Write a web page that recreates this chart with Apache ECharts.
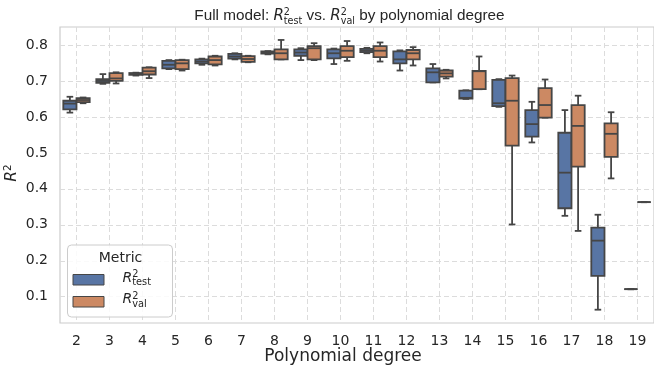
<!DOCTYPE html>
<html>
<head>
<meta charset="utf-8">
<script src="https://cdn.jsdelivr.net/npm/echarts@6/dist/echarts.min.js"></script>
<style>
  html, body { margin: 0; padding: 0; background: #ffffff; }
  #chart { width: 654px; height: 369px; }
</style>
</head>
<body>
<div id="chart"></div>
<script>
// Polynomial degrees on the x axis
const degrees = [2, 3, 4, 5, 6, 7, 8, 9, 10, 11, 12, 13, 14, 15, 16, 17, 18, 19];

// Five-number summaries per degree: [lower whisker, Q1, median, Q3, upper whisker]
const testStats = [
  [0.612, 0.621, 0.637, 0.645, 0.656],
  [0.692, 0.695, 0.700, 0.705, 0.719],
  [0.715, 0.717, 0.720, 0.722, 0.723],
  [0.733, 0.735, 0.745, 0.756, 0.758],
  [0.745, 0.749, 0.754, 0.760, 0.762],
  [0.760, 0.762, 0.768, 0.775, 0.777],
  [0.774, 0.776, 0.779, 0.782, 0.783],
  [0.758, 0.770, 0.779, 0.788, 0.791],
  [0.747, 0.763, 0.777, 0.788, 0.790],
  [0.777, 0.780, 0.784, 0.789, 0.792],
  [0.729, 0.749, 0.760, 0.782, 0.785],
  [0.696, 0.696, 0.724, 0.735, 0.747],
  [0.650, 0.651, 0.653, 0.673, 0.674],
  [0.628, 0.630, 0.638, 0.703, 0.705],
  [0.529, 0.545, 0.580, 0.619, 0.642],
  [0.325, 0.346, 0.445, 0.556, 0.619],
  [0.064, 0.158, 0.256, 0.292, 0.328],
  [0.121, 0.121, 0.121, 0.121, 0.121]
];

const valStats = [
  [0.638, 0.641, 0.647, 0.652, 0.654],
  [0.693, 0.700, 0.707, 0.722, 0.724],
  [0.708, 0.718, 0.727, 0.737, 0.738],
  [0.729, 0.733, 0.749, 0.758, 0.759],
  [0.743, 0.746, 0.758, 0.768, 0.770],
  [0.752, 0.753, 0.761, 0.769, 0.770],
  [0.760, 0.760, 0.777, 0.788, 0.814],
  [0.758, 0.760, 0.791, 0.797, 0.805],
  [0.756, 0.766, 0.784, 0.797, 0.811],
  [0.754, 0.766, 0.784, 0.797, 0.807],
  [0.743, 0.760, 0.777, 0.786, 0.794],
  [0.707, 0.712, 0.721, 0.729, 0.731],
  [0.677, 0.677, 0.727, 0.728, 0.768],
  [0.301, 0.520, 0.645, 0.708, 0.715],
  [0.598, 0.598, 0.633, 0.680, 0.704],
  [0.283, 0.462, 0.575, 0.633, 0.659],
  [0.429, 0.489, 0.553, 0.582, 0.613],
  [0.363, 0.363, 0.363, 0.363, 0.363]
];

const yTicks = [0.1, 0.2, 0.3, 0.4, 0.5, 0.6, 0.7, 0.8];

const COLOR_TEST = '#5875a4';
const COLOR_VAL = '#cc8963';
const EDGE = '#464646';
const GRID_COLOR = '#dcdcdc';
const TEXT = '#262626';
const MATH_FONT = '"DejaVu Sans"';
const TITLE_FONT = '"Liberation Sans"';

// text measuring for laying out super/subscripts
const mctx = document.createElement('canvas').getContext('2d');
function measure(t, size, fam, style) {
  mctx.font = (style || 'normal') + ' ' + size + 'px ' + fam;
  return mctx.measureText(t).width;
}

// Lays out a run of text pieces on a common baseline; stacked pieces put
// a superscript over a subscript at the same x position.
function mathRun(x0, baseY, pieces, z) {
  const els = [];
  let x = x0;
  function put(t, size, fam, style, by) {
    els.push({
      type: 'text', z: z || 50,
      style: {
        text: t, x: x, y: by - size * 0.36,
        font: (style || 'normal') + ' ' + size + 'px ' + fam,
        fill: TEXT, align: 'left', verticalAlign: 'middle'
      }
    });
  }
  pieces.forEach(function (p) {
    if (p.stack) {
      put(p.sup, p.size, p.fam, 'normal', baseY + p.supDy);
      put(p.sub, p.size, p.fam, 'normal', baseY + p.subDy);
      x += Math.max(measure(p.sup, p.size, p.fam), measure(p.sub, p.size, p.fam));
    } else {
      put(p.t, p.size, p.fam, p.style, baseY);
      x += measure(p.t, p.size, p.fam, p.style);
    }
  });
  return { els: els, width: x - x0 };
}

function runWidth(pieces) {
  return mathRun(0, 0, pieces).width;
}

const titlePieces = [
  { t: 'Full model: ', size: 15.3, fam: TITLE_FONT },
  { t: 'R', size: 15, fam: MATH_FONT, style: 'italic' },
  { stack: true, sup: '2', sub: 'test', size: 9.6, fam: MATH_FONT, supDy: -5.5, subDy: 3 },
  { t: ' vs. ', size: 15.3, fam: TITLE_FONT },
  { t: 'R', size: 15, fam: MATH_FONT, style: 'italic' },
  { stack: true, sup: '2', sub: 'val', size: 9.6, fam: MATH_FONT, supDy: -5.5, subDy: 3 },
  { t: ' by polynomial degree', size: 15.3, fam: TITLE_FONT }
];
const titleW = runWidth(titlePieces);
const titleRun = mathRun(349.5 - titleW / 2, 21.6, titlePieces, 60);

function legendLabel(sub) {
  return [
    { t: 'R', size: 14, fam: MATH_FONT, style: 'italic' },
    { stack: true, sup: '2', sub: sub, size: 9.8, fam: MATH_FONT, supDy: -5, subDy: 3 }
  ];
}
const legTest = mathRun(122.5, 283, legendLabel('test'), 110);
const legVal = mathRun(122.5, 304.5, legendLabel('val'), 110);

// y axis name, drawn upright then turned a quarter turn
const yNamePieces = [
  { t: 'R', size: 15.5, fam: MATH_FONT, style: 'italic' },
  { stack: true, sup: '2', sub: '', size: 10.5, fam: MATH_FONT, supDy: -5.5, subDy: 3 }
];
const yNameW = runWidth(yNamePieces);
const yNameRun = mathRun(-yNameW / 2, 5, yNamePieces, 60);

function buildData(stats) {
  return degrees.map(function (d, i) {
    const s = stats[i];
    return [d, s[0], s[1], s[2], s[3], s[4]];
  });
}

function renderBox(offset, color) {
  return function (params, api) {
    const d = api.value(0);
    const cx = api.coord([d + offset, 0])[0];
    const bw = api.size([0.4, 0])[0];
    const capW = bw * 0.5;
    const yLo = api.coord([d, api.value(1)])[1];
    const yQ1 = api.coord([d, api.value(2)])[1];
    const yMed = api.coord([d, api.value(3)])[1];
    const yQ3 = api.coord([d, api.value(4)])[1];
    const yHi = api.coord([d, api.value(5)])[1];
    const lineStyle = { stroke: EDGE, lineWidth: 1.8, lineCap: 'butt' };
    return {
      type: 'group',
      children: [
        { type: 'line', shape: { x1: cx, y1: yHi, x2: cx, y2: yQ3 }, style: lineStyle },
        { type: 'line', shape: { x1: cx, y1: yQ1, x2: cx, y2: yLo }, style: lineStyle },
        { type: 'line', shape: { x1: cx - capW / 2, y1: yHi, x2: cx + capW / 2, y2: yHi }, style: lineStyle },
        { type: 'line', shape: { x1: cx - capW / 2, y1: yLo, x2: cx + capW / 2, y2: yLo }, style: lineStyle },
        {
          type: 'rect',
          shape: { x: cx - bw / 2, y: yQ3, width: bw, height: yQ1 - yQ3 },
          style: { fill: color, stroke: EDGE, lineWidth: 1.8 }
        },
        { type: 'line', shape: { x1: cx - bw / 2, y1: yMed, x2: cx + bw / 2, y2: yMed }, style: lineStyle }
      ]
    };
  };
}

const chart = echarts.init(document.getElementById('chart'), null, { renderer: 'canvas' });

const dashed = { show: true, lineStyle: { color: GRID_COLOR, type: [5, 3], width: 1 } };

chart.setOption({
  animation: false,
  backgroundColor: '#ffffff',
  grid: {
    left: 60, top: 27, width: 600, bottom: 46,
    show: true, borderColor: '#cccccc', borderWidth: 1.2, backgroundColor: 'transparent'
  },
  xAxis: {
    type: 'value', min: 1.5, max: 19.5,
    axisLine: { show: false },
    axisTick: { show: false, customValues: degrees },
    axisLabel: {
      customValues: degrees, margin: 11,
      color: TEXT, fontSize: 14, fontFamily: MATH_FONT,
      formatter: function (v) { return String(v); }
    },
    splitLine: dashed
  },
  yAxis: {
    type: 'value', min: 0.027, max: 0.85,
    axisLine: { show: false },
    axisTick: { show: false, customValues: yTicks },
    axisLabel: {
      customValues: yTicks, margin: 12,
      color: TEXT, fontSize: 14, fontFamily: MATH_FONT,
      formatter: function (v) { return v.toFixed(1); }
    },
    splitLine: dashed
  },
  series: [
    {
      name: 'test', type: 'custom', data: buildData(testStats),
      encode: { x: 0, y: [1, 2, 3, 4, 5] },
      renderItem: renderBox(-0.2, COLOR_TEST), z: 5
    },
    {
      name: 'val', type: 'custom', data: buildData(valStats),
      encode: { x: 0, y: [1, 2, 3, 4, 5] },
      renderItem: renderBox(0.2, COLOR_VAL), z: 5
    }
  ],
  graphic: [
    { type: 'group', children: titleRun.els },
    {
      type: 'text', z: 60,
      style: {
        text: 'Polynomial degree', x: 343, y: 357,
        font: '17px ' + MATH_FONT, fill: TEXT, align: 'center', verticalAlign: 'middle'
      }
    },
    { type: 'group', x: 13, y: 173, rotation: Math.PI / 2, children: yNameRun.els },
    {
      type: 'rect', z: 100,
      shape: { x: 67.5, y: 245, width: 105, height: 72, r: 4 },
      style: { fill: 'rgba(255,255,255,0.85)', stroke: '#cccccc', lineWidth: 1 }
    },
    {
      type: 'text', z: 110,
      style: {
        text: 'Metric', x: 120.5, y: 258.5,
        font: '14px ' + MATH_FONT, fill: TEXT, align: 'center', verticalAlign: 'middle'
      }
    },
    {
      type: 'rect', z: 110,
      shape: { x: 73, y: 274.5, width: 31, height: 10.5 },
      style: { fill: COLOR_TEST, stroke: EDGE, lineWidth: 1 }
    },
    {
      type: 'rect', z: 110,
      shape: { x: 73, y: 296.5, width: 31, height: 10.5 },
      style: { fill: COLOR_VAL, stroke: EDGE, lineWidth: 1 }
    },
    { type: 'group', children: legTest.els },
    { type: 'group', children: legVal.els }
  ]
});
</script>
</body>
</html>
